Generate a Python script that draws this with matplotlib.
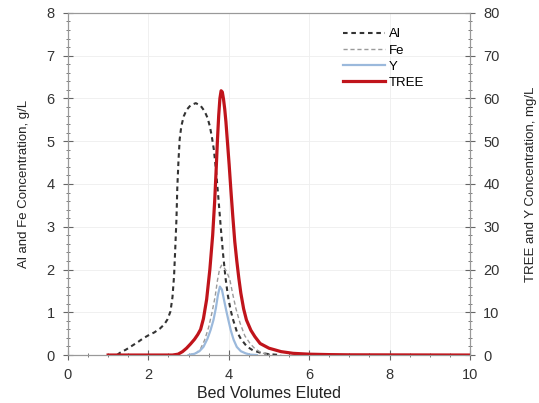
import numpy as np
import matplotlib.pyplot as plt
from matplotlib.ticker import MultipleLocator

plt.rcParams['font.family'] = ['Liberation Sans', 'DejaVu Sans']

# Al (g/L)
al_x = [1.22, 1.29, 1.45, 1.6, 1.75, 1.87, 2.0, 2.15, 2.29, 2.4, 2.48, 2.55, 2.6, 2.64, 2.67, 2.7,
        2.72, 2.75, 2.78, 2.82, 2.88, 2.95, 3.05, 3.18, 3.3, 3.4, 3.47, 3.53, 3.58, 3.63, 3.68, 3.74,
        3.8, 3.86, 3.92, 3.98, 4.04, 4.1, 4.2, 4.3, 4.45, 4.6, 4.8, 5.0, 5.3]
al_y = [0.0, 0.05, 0.13, 0.22, 0.31, 0.39, 0.46, 0.53, 0.62, 0.72, 0.84, 1.02, 1.35, 1.85, 2.5, 3.2,
        3.9, 4.55, 5.05, 5.35, 5.58, 5.73, 5.84, 5.89, 5.83, 5.7, 5.55, 5.35, 5.1, 4.8, 4.35, 3.7,
        3.0, 2.35, 1.8, 1.38, 1.08, 0.85, 0.55, 0.38, 0.2, 0.11, 0.05, 0.02, 0.0]

# Fe (g/L)
fe_x = [3.0, 3.2, 3.3, 3.4, 3.5, 3.58, 3.66, 3.72, 3.77, 3.82, 3.88, 3.95, 4.03, 4.1, 4.18, 4.28,
        4.4, 4.53, 4.65, 4.8, 5.0]
fe_y = [0.0, 0.05, 0.15, 0.35, 0.65, 0.98, 1.36, 1.75, 2.0, 2.1, 2.05, 1.95, 1.75, 1.42, 1.08, 0.75,
        0.45, 0.27, 0.15, 0.06, 0.0]

# Y (mg/L)
y_x = [3.0, 3.15, 3.27, 3.37, 3.47, 3.55, 3.62, 3.68, 3.73, 3.78, 3.83, 3.88, 3.94, 3.99, 4.05,
       4.12, 4.2, 4.3, 4.42, 4.53, 4.7]
y_y = [0.0, 0.3, 0.9, 1.9, 3.8, 5.9, 8.2, 11.0, 14.0, 16.0, 15.3, 13.0, 10.3, 8.2, 5.8,
       3.6, 1.9, 0.9, 0.4, 0.1, 0.0]

# TREE (mg/L)
tree_x = [1.0, 2.6, 2.74, 2.85, 2.95, 3.05, 3.15, 3.23, 3.3, 3.37, 3.45, 3.53, 3.6, 3.65, 3.69,
          3.72, 3.75, 3.78, 3.81, 3.84, 3.87, 3.9, 3.93, 3.97, 4.01, 4.05, 4.1, 4.15, 4.2, 4.25,
          4.3, 4.37, 4.44, 4.55, 4.65, 4.78, 5.0, 5.3, 5.6, 6.0, 6.5, 7.0, 10.0]
tree_y = [0.0, 0.0, 0.2, 0.8, 1.6, 2.6, 3.7, 4.8, 6.0, 8.5, 13.0, 20.0, 28.0, 36.0, 44.0,
          50.5, 56.0, 60.0, 61.8, 61.5, 59.8, 57.5, 54.5, 49.5, 44.5, 39.0, 32.5, 26.5, 22.0, 18.0,
          14.5, 10.8, 8.2, 5.8, 4.3, 2.7, 1.6, 0.8, 0.4, 0.2, 0.1, 0.05, 0.0]

fig = plt.figure(figsize=(5.39, 4.03), dpi=100)
ax = fig.add_axes([0.126, 0.119, 0.746, 0.849])
ax2 = ax.twinx()

l1, = ax.plot(al_x, al_y, color='#333333', lw=1.5, ls=(0, (2.2, 1.8)), label='Al')
l2, = ax.plot(fe_x, fe_y, color='#9a9a9a', lw=1.0, ls=(0, (3, 2)), label='Fe')
l3, = ax2.plot(y_x, y_y, color='#9bb9dc', lw=1.6, label='Y')
l4, = ax2.plot(tree_x, tree_y, color='#c0141b', lw=2.3, label='TREE')

ax.set_xlim(0, 10)
ax.set_ylim(0, 8)
ax2.set_ylim(0, 80)
ax.xaxis.set_major_locator(MultipleLocator(2))
ax.xaxis.set_minor_locator(MultipleLocator(0.5))
ax.yaxis.set_major_locator(MultipleLocator(1))
ax.yaxis.set_minor_locator(MultipleLocator(0.2))
ax2.yaxis.set_major_locator(MultipleLocator(10))
ax2.yaxis.set_minor_locator(MultipleLocator(2))

ax.grid(True, which='major', color='#eeeeee', lw=0.6)
ax.set_axisbelow(True)

for a in (ax, ax2):
    a.tick_params(which='both', direction='inout', colors='#666666', labelcolor='#333333',
                  labelsize=10.5, pad=6)
    a.tick_params(which='major', length=7)
    a.tick_params(which='minor', length=3.5)
    for s in a.spines.values():
        s.set_color('#999999')

ax.set_xlabel('Bed Volumes Eluted', fontsize=11.5, color='#222222', labelpad=3)
ax.set_ylabel('Al and Fe Concentration, g/L', fontsize=9.5, color='#222222', labelpad=12)
ax2.set_ylabel('TREE and Y Concentration, mg/L', fontsize=9.5, color='#222222', labelpad=18)

ax.legend(handles=[l1, l2, l3, l4], loc='upper left', bbox_to_anchor=(0.655, 0.99),
          frameon=False, fontsize=9.5, handlelength=3.2, handletextpad=0.25, labelspacing=0.3)

fig.savefig('out.png', dpi=100)
